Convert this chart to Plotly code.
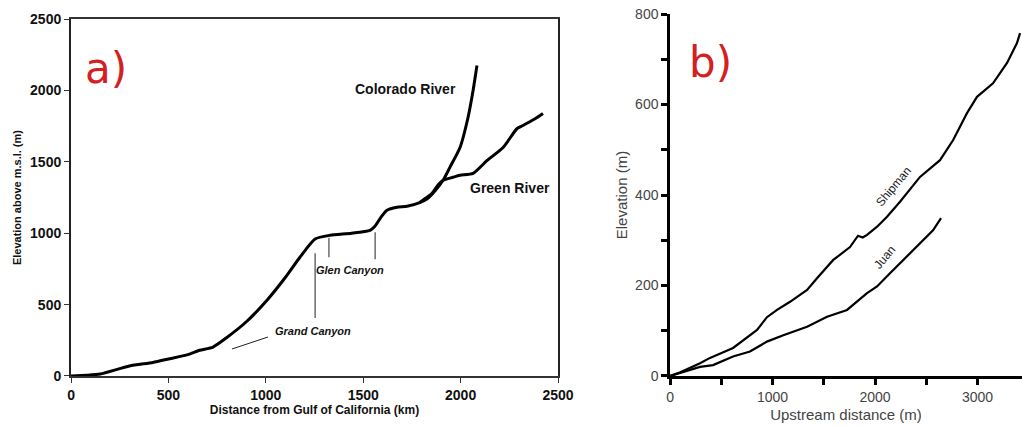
import plotly.graph_objects as go

# panel a) - longitudinal profiles (km, m)
colorado_x = [0, 80, 150, 300, 420, 500, 600, 660, 729, 800, 900, 1006, 1100, 1175, 1253, 1330, 1440, 1535,
              1560, 1590, 1622, 1673, 1725, 1790, 1827, 1870, 1910, 1945, 1997, 2038, 2064, 2084]
colorado_y = [0, 5, 14, 70, 95, 119, 150, 180, 203, 270, 380, 531, 690, 832, 960, 986, 1000, 1021,
              1049, 1110, 1161, 1182, 1189, 1215, 1240, 1300, 1371, 1462, 1601, 1811, 2000, 2175]
green_x = [1790, 1820, 1850, 1885, 1910, 1960, 1997, 2064, 2136, 2218, 2290, 2320, 2380, 2423]
green_y = [1215, 1245, 1275, 1340, 1371, 1392, 1406, 1420, 1510, 1601, 1734, 1755, 1800, 1839]

# panel b) - valley profiles (m, m)
shipman_x = [0, 100, 293, 390, 615, 849, 946, 1044, 1171, 1337, 1434, 1590, 1756, 1834, 1880, 1922, 2020, 2117,
             2244, 2439, 2634, 2761, 2829, 2897, 2995, 3151, 3288, 3385, 3415]
shipman_y = [0, 8, 28, 40, 62, 102, 130, 146, 164, 190, 216, 256, 285, 310, 306, 312, 330, 352,
             385, 440, 477, 521, 551, 581, 617, 647, 692, 736, 758]
juan_x = [0, 100, 293, 420, 615, 780, 946, 1105, 1337, 1532, 1727, 1922, 2020, 2146, 2312, 2468, 2566, 2644]
juan_y = [0, 7, 20, 24, 43, 54, 76, 90, 109, 131, 146, 183, 198, 227, 264, 301, 322, 349]

fig = go.Figure()
fig.add_trace(go.Scatter(x=colorado_x, y=colorado_y, mode="lines",
                         line=dict(color="black", width=3, shape="spline", smoothing=0.6),
                         xaxis="x", yaxis="y", showlegend=False))
fig.add_trace(go.Scatter(x=green_x, y=green_y, mode="lines",
                         line=dict(color="black", width=3, shape="spline", smoothing=0.6),
                         xaxis="x", yaxis="y", showlegend=False))
fig.add_trace(go.Scatter(x=shipman_x, y=shipman_y, mode="lines", line=dict(color="black", width=2.2),
                         xaxis="x2", yaxis="y2", showlegend=False))
fig.add_trace(go.Scatter(x=juan_x, y=juan_y, mode="lines", line=dict(color="black", width=2.2),
                         xaxis="x2", yaxis="y2", showlegend=False))

# canyon marker lines
marker_lines = [(826, 189, 1011, 273), (1253, 860, 1253, 406), (1324, 968, 1324, 832), (1561, 1007, 1561, 818)]
for x0, y0, x1, y1 in marker_lines:
    fig.add_shape(type="line", x0=x0, y0=y0, x1=x1, y1=y1, xref="x", yref="y",
                  line=dict(color="#222", width=1))

bold = dict(family="Liberation Sans, Arial", size=14, color="#111", weight="bold")
light = dict(family="Liberation Sans, Arial", size=14, color="#444")

fig.add_annotation(x=1715, y=2014, xref="x", yref="y", text="Colorado River", showarrow=False,
                   font=dict(family="Liberation Sans, Arial", size=14, color="#111", weight="bold"))
fig.add_annotation(x=2254, y=1315, xref="x", yref="y", text="Green River", showarrow=False,
                   font=dict(family="Liberation Sans, Arial", size=14, color="#111", weight="bold"))
fig.add_annotation(x=1242, y=315, xref="x", yref="y", text="<i>Grand Canyon</i>", showarrow=False,
                   font=dict(family="Liberation Sans, Arial", size=11, color="#111", weight="bold"))
fig.add_annotation(x=1432, y=741, xref="x", yref="y", text="<i>Glen Canyon</i>", showarrow=False,
                   font=dict(family="Liberation Sans, Arial", size=11, color="#111", weight="bold"))
fig.add_annotation(x=2176, y=418, xref="x2", yref="y2", text="Shipman", showarrow=False, textangle=-50,
                   font=dict(family="Liberation Sans, Arial", size=12, color="#222"))
fig.add_annotation(x=2098, y=262, xref="x2", yref="y2", text="Juan", showarrow=False, textangle=-50,
                   font=dict(family="Liberation Sans, Arial", size=12, color="#222"))

# panel letters
fig.add_annotation(x=0.104, y=0.84, xref="paper", yref="paper", text="a)", showarrow=False,
                   xanchor="center", yanchor="middle",
                   font=dict(family="DejaVu Sans", size=42, color="#d42020"))
fig.add_annotation(x=0.695, y=0.854, xref="paper", yref="paper", text="b)", showarrow=False,
                   xanchor="center", yanchor="middle",
                   font=dict(family="DejaVu Sans", size=42, color="#d42020"))

fig.update_layout(
    width=1022, height=426,
    margin=dict(l=0, r=0, t=0, b=0, autoexpand=False),
    paper_bgcolor="white", plot_bgcolor="white",
    xaxis=dict(domain=[0.0695, 0.546], range=[0, 2500], tickvals=[0, 500, 1000, 1500, 2000, 2500],
               showgrid=False, zeroline=False, showline=True, linecolor="#333", linewidth=1.5, mirror=True,
               ticks="outside", ticklen=5, tickcolor="#333", tickfont=bold, automargin=False,
               title=dict(text="Distance from Gulf of California (km)", font=dict(bold, size=12), standoff=2),
               anchor="y"),
    yaxis=dict(domain=[0.1174, 0.955], range=[0, 2500], tickvals=[0, 500, 1000, 1500, 2000, 2500],
               showgrid=False, zeroline=False, showline=True, linecolor="#222", linewidth=2, mirror=True,
               ticks="outside", ticklen=5, tickcolor="#333", tickfont=bold, automargin=False,
               title=dict(text="Elevation above m.s.l. (m)", font=dict(bold, size=11), standoff=6),
               anchor="x"),
    xaxis2=dict(domain=[0.6556, 1.0], range=[0, 3434], tickvals=[0, 1000, 2000, 3000],
                showgrid=False, zeroline=False, showline=True, linecolor="black", linewidth=2.5,
                ticks="outside", ticklen=6, tickwidth=2.5, tickcolor="black", tickfont=light, automargin=False,
                minor=dict(dtick=500, ticks="outside", ticklen=6, tickwidth=2.5, tickcolor="black"),
                title=dict(text="Upstream distance (m)", font=dict(light, size=15), standoff=6),
                anchor="y2"),
    yaxis2=dict(domain=[0.1174, 0.967], range=[0, 800], tickvals=[0, 200, 400, 600, 800],
                showgrid=False, zeroline=False, showline=True, linecolor="black", linewidth=2.5,
                ticks="outside", ticklen=6, tickwidth=2.5, tickcolor="black", tickfont=light, automargin=False,
                minor=dict(dtick=100, ticks="outside", ticklen=6, tickwidth=2.5, tickcolor="black"),
                title=dict(text="Elevation (m)", font=dict(light, size=15), standoff=4),
                anchor="x2"),
)

fig.write_html("out.html", config={"displayModeBar": False},
               post_script="document.body.style.margin='0';document.body.style.padding='0';")
